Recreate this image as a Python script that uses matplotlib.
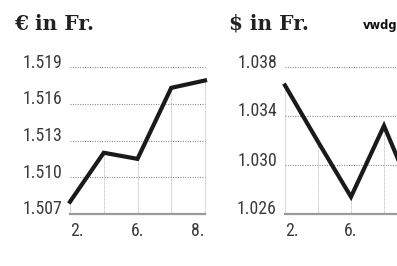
import matplotlib
matplotlib.use("Agg")
import matplotlib.pyplot as plt
from matplotlib import font_manager as fm
import matplotlib.transforms as mtrans

# ---- data ----
days = ["2.", "5.", "6.", "7.", "8."]
eur_shown_days = ["2.", "6.", "8."]
usd_shown_days = ["2.", "6."]
eur_chf = [1.5080, 1.5120, 1.5115, 1.5173, 1.5179]
usd_chf = [1.0365, 1.0319, 1.0274, 1.0332, 1.0268]
eur_ticks = [1.507, 1.510, 1.513, 1.516, 1.519]
usd_ticks = [1.026, 1.030, 1.034, 1.038]
titles = ["€ in Fr.", "$ in Fr."]
source = "vwdgrafik"

names = {f.name for f in fm.fontManager.ttflist}
cond = None
for cand in ["Liberation Sans Narrow", "Roboto Condensed", "Open Sans Condensed", "DejaVu Sans Condensed"]:
    if cand in names:
        cond = cand
        break
num_font = [cond] if cond else ["Liberation Sans"]
serif = "DejaVu Serif"

W, H = 397, 266
fig = plt.figure(figsize=(W / 100, H / 100), dpi=100)

line_col = "#1a1a1a"
txt_col = "#3a3a3a"

def make_panel(x0, x1, vals, ticks, shown, title, title_x):
    bottom, top = 214, 67
    ax = fig.add_axes([x0 / W, 1 - bottom / H, (x1 - x0) / W, (bottom - top) / H])
    n = len(vals)
    xs = list(range(n))
    ax.set_xlim(0, n - 1)
    ax.set_ylim(ticks[0], ticks[-1])
    for s in ax.spines.values():
        s.set_visible(False)
    ax.set_xticks([])
    ax.set_yticks([])
    ax.patch.set_visible(False)
    # horizontal dotted gridlines
    for t in ticks[1:]:
        ax.axhline(t, color="#777777", lw=0.8, linestyle=(0, (0.8, 1.4)), zorder=1, clip_on=False)
    # drop lines
    for xi, v in zip(xs, vals):
        ax.plot([xi, xi], [ticks[0], v], color="#aaaaaa", lw=0.6, linestyle=(0, (0.8, 0.8)), zorder=1, clip_on=False)
    # baseline
    ax.axhline(ticks[0], color="#9a9a9a", lw=1.6, zorder=2, clip_on=False)
    ax.plot(xs, vals, color=line_col, lw=3.0, solid_joinstyle="miter", zorder=3, clip_on=False)
    # y labels
    off = mtrans.ScaledTranslation(-8 / 100, 4.5 / 100, fig.dpi_scale_trans)
    for t in ticks:
        ax.text(0, t, f"{t:.3f}", transform=ax.transData + off, ha="right", va="center",
                fontsize=12.8, family=num_font, color=txt_col)
    # x labels
    offx = mtrans.ScaledTranslation(0, -8 / 100, fig.dpi_scale_trans)
    for i, d in enumerate(days):
        if d not in shown:
            continue
        ha = "left" if i == 0 else ("right" if i == n - 1 else "center")
        ax.text(i, ticks[0], d, transform=ax.transData + offx, ha=ha, va="top",
                fontsize=12.8, family=num_font, color=txt_col)
    fig.text(title_x / W, 1 - 30 / H, title, ha="left", va="baseline",
             fontsize=14.5, fontweight="bold", family=serif, color="#222222")
    return ax

make_panel(70, 205, eur_chf, eur_ticks, eur_shown_days, titles[0], 14)
make_panel(285, 417, usd_chf, usd_ticks, usd_shown_days, titles[1], 229)
fig.text(363 / W, 1 - 29 / H, source, ha="left", va="baseline", fontsize=8.3,
         fontweight="bold", family="DejaVu Sans", color="#111111")

fig.savefig("out.png", dpi=100)
